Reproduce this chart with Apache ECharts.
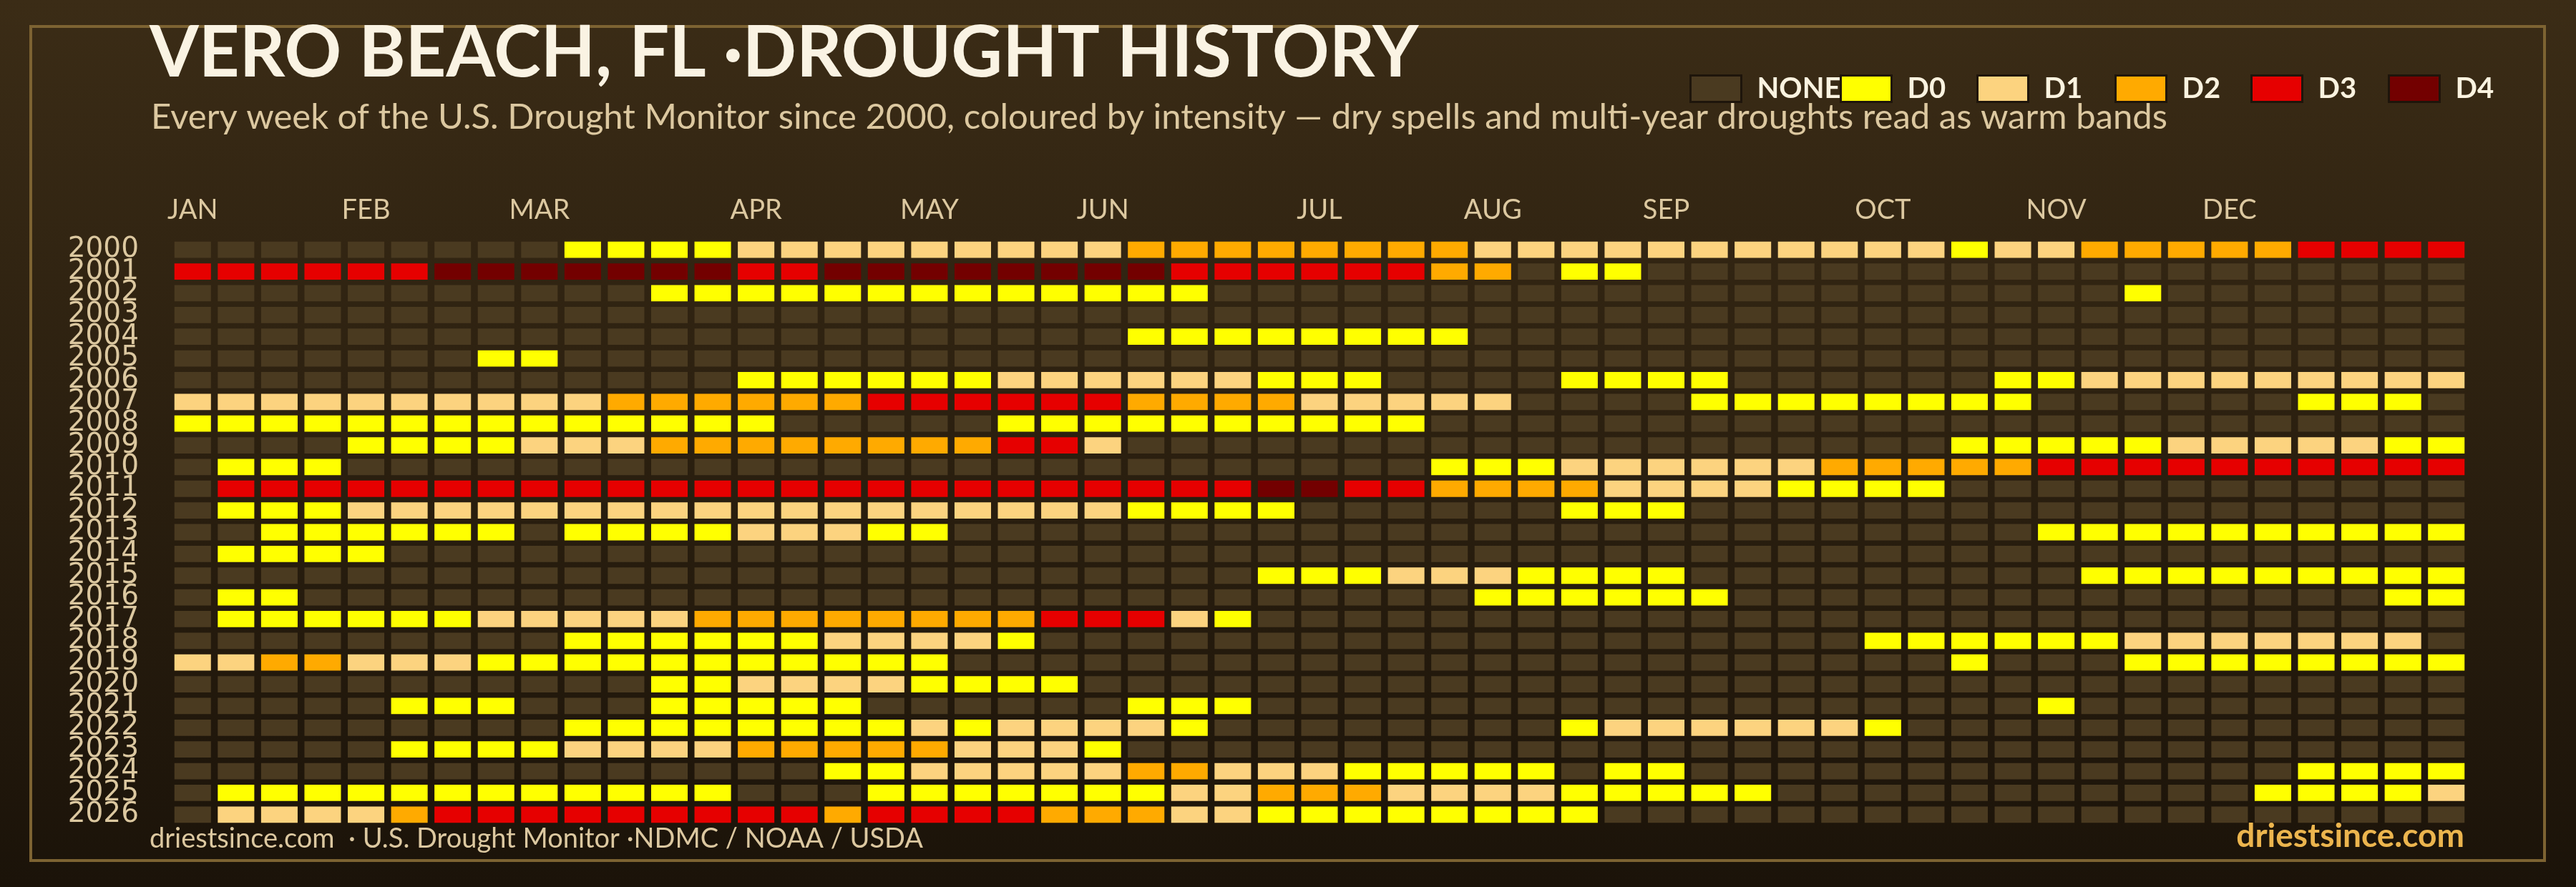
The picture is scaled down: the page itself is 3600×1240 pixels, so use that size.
<!DOCTYPE html>
<html>
<head>
<meta charset="utf-8">
<script src="https://cdn.jsdelivr.net/npm/echarts@6/dist/echarts.min.js"></script>
<style>
  html, body { margin: 0; padding: 0; background: #2b1f0f; }
  #chart { width: 3600px; height: 1240px; }
</style>
</head>
<body>
<div id="chart"></div>
<script>
// ---- categories ----
const levelNames = ['NONE', 'D0', 'D1', 'D2', 'D3', 'D4'];
const levelColors = ['#4a3a20', '#ffff00', '#fcd37f', '#ffaa00', '#e60000', '#730000'];
const yearLabels = ['2000','2001','2002','2003','2004','2005','2006','2007','2008','2009','2010','2011','2012','2013',
  '2014','2015','2016','2017','2018','2019','2020','2021','2022','2023','2024','2025','2026'];
const monthNames = ['JAN','FEB','MAR','APR','MAY','JUN','JUL','AUG','SEP','OCT','NOV','DEC'];
const monthStartWeek = [0, 4, 8, 13, 17, 21, 26, 30, 34, 39, 43, 47];

// ---- weekly intensity per year (0 = none, 1 = D0 ... 5 = D4), 53 weeks ----
const w2000 = [0,0,0,0,0,0,0,0,0,1,1,1,1,2,2,2,2,2,2,2,2,2,3,3,3,3,3,3,3,3,2,2,2,2,2,2,2,2,2,2,2,1,2,2,3,3,3,3,3,4,4,4,4];
const w2001 = [4,4,4,4,4,4,5,5,5,5,5,5,5,4,4,5,5,5,5,5,5,5,5,4,4,4,4,4,4,3,3,0,1,1,0,0,0,0,0,0,0,0,0,0,0,0,0,0,0,0,0,0,0];
const w2002 = [0,0,0,0,0,0,0,0,0,0,0,1,1,1,1,1,1,1,1,1,1,1,1,1,0,0,0,0,0,0,0,0,0,0,0,0,0,0,0,0,0,0,0,0,0,1,0,0,0,0,0,0,0];
const w2003 = [0,0,0,0,0,0,0,0,0,0,0,0,0,0,0,0,0,0,0,0,0,0,0,0,0,0,0,0,0,0,0,0,0,0,0,0,0,0,0,0,0,0,0,0,0,0,0,0,0,0,0,0,0];
const w2004 = [0,0,0,0,0,0,0,0,0,0,0,0,0,0,0,0,0,0,0,0,0,0,1,1,1,1,1,1,1,1,0,0,0,0,0,0,0,0,0,0,0,0,0,0,0,0,0,0,0,0,0,0,0];
const w2005 = [0,0,0,0,0,0,0,1,1,0,0,0,0,0,0,0,0,0,0,0,0,0,0,0,0,0,0,0,0,0,0,0,0,0,0,0,0,0,0,0,0,0,0,0,0,0,0,0,0,0,0,0,0];
const w2006 = [0,0,0,0,0,0,0,0,0,0,0,0,0,1,1,1,1,1,1,2,2,2,2,2,2,1,1,1,0,0,0,0,1,1,1,1,0,0,0,0,0,0,1,1,2,2,2,2,2,2,2,2,2];
const w2007 = [2,2,2,2,2,2,2,2,2,2,3,3,3,3,3,3,4,4,4,4,4,4,3,3,3,3,2,2,2,2,2,0,0,0,0,1,1,1,1,1,1,1,1,0,0,0,0,0,0,1,1,1,0];
const w2008 = [1,1,1,1,1,1,1,1,1,1,1,1,1,1,0,0,0,0,0,1,1,1,1,1,1,1,1,1,1,0,0,0,0,0,0,0,0,0,0,0,0,0,0,0,0,0,0,0,0,0,0,0,0];
const w2009 = [0,0,0,0,1,1,1,1,2,2,2,3,3,3,3,3,3,3,3,4,4,2,0,0,0,0,0,0,0,0,0,0,0,0,0,0,0,0,0,0,0,1,1,1,1,1,2,2,2,2,2,1,1];
const w2010 = [0,1,1,1,0,0,0,0,0,0,0,0,0,0,0,0,0,0,0,0,0,0,0,0,0,0,0,0,0,1,1,1,2,2,2,2,2,2,3,3,3,3,3,4,4,4,4,4,4,4,4,4,4];
const w2011 = [0,4,4,4,4,4,4,4,4,4,4,4,4,4,4,4,4,4,4,4,4,4,4,4,4,5,5,4,4,3,3,3,3,2,2,2,2,1,1,1,1,0,0,0,0,0,0,0,0,0,0,0,0];
const w2012 = [0,1,1,1,2,2,2,2,2,2,2,2,2,2,2,2,2,2,2,2,2,2,1,1,1,1,0,0,0,0,0,0,1,1,1,0,0,0,0,0,0,0,0,0,0,0,0,0,0,0,0,0,0];
const w2013 = [0,0,1,1,1,1,1,1,0,1,1,1,1,2,2,2,1,1,0,0,0,0,0,0,0,0,0,0,0,0,0,0,0,0,0,0,0,0,0,0,0,0,0,1,1,1,1,1,1,1,1,1,1];
const w2014 = [0,1,1,1,1,0,0,0,0,0,0,0,0,0,0,0,0,0,0,0,0,0,0,0,0,0,0,0,0,0,0,0,0,0,0,0,0,0,0,0,0,0,0,0,0,0,0,0,0,0,0,0,0];
const w2015 = [0,0,0,0,0,0,0,0,0,0,0,0,0,0,0,0,0,0,0,0,0,0,0,0,0,1,1,1,2,2,2,1,1,1,1,0,0,0,0,0,0,0,0,0,1,1,1,1,1,1,1,1,1];
const w2016 = [0,1,1,0,0,0,0,0,0,0,0,0,0,0,0,0,0,0,0,0,0,0,0,0,0,0,0,0,0,0,1,1,1,1,1,1,0,0,0,0,0,0,0,0,0,0,0,0,0,0,0,1,1];
const w2017 = [0,1,1,1,1,1,1,2,2,2,2,2,3,3,3,3,3,3,3,3,4,4,4,2,1,0,0,0,0,0,0,0,0,0,0,0,0,0,0,0,0,0,0,0,0,0,0,0,0,0,0,0,0];
const w2018 = [0,0,0,0,0,0,0,0,0,1,1,1,1,1,1,2,2,2,2,1,0,0,0,0,0,0,0,0,0,0,0,0,0,0,0,0,0,0,0,1,1,1,1,1,1,2,2,2,2,2,2,2,0];
const w2019 = [2,2,3,3,2,2,2,1,1,1,1,1,1,1,1,1,1,1,0,0,0,0,0,0,0,0,0,0,0,0,0,0,0,0,0,0,0,0,0,0,0,1,0,0,0,1,1,1,1,1,1,1,1];
const w2020 = [0,0,0,0,0,0,0,0,0,0,0,1,1,2,2,2,2,1,1,1,1,0,0,0,0,0,0,0,0,0,0,0,0,0,0,0,0,0,0,0,0,0,0,0,0,0,0,0,0,0,0,0,0];
const w2021 = [0,0,0,0,0,1,1,1,0,0,0,1,1,1,1,1,0,0,0,0,0,0,1,1,1,0,0,0,0,0,0,0,0,0,0,0,0,0,0,0,0,0,0,1,0,0,0,0,0,0,0,0,0];
const w2022 = [0,0,0,0,0,0,0,0,0,1,1,1,1,1,1,1,1,2,1,2,2,2,2,1,0,0,0,0,0,0,0,0,1,2,2,2,2,2,2,1,0,0,0,0,0,0,0,0,0,0,0,0,0];
const w2023 = [0,0,0,0,0,1,1,1,1,2,2,2,2,3,3,3,3,3,2,2,2,1,0,0,0,0,0,0,0,0,0,0,0,0,0,0,0,0,0,0,0,0,0,0,0,0,0,0,0,0,0,0,0];
const w2024 = [0,0,0,0,0,0,0,0,0,0,0,0,0,0,0,1,1,2,2,2,2,2,3,3,2,2,2,1,1,1,1,1,0,1,1,0,0,0,0,0,0,0,0,0,0,0,0,0,0,1,1,1,1];
const w2025 = [0,1,1,1,1,1,1,1,1,1,1,1,1,0,0,0,1,1,1,1,1,1,1,2,2,3,3,3,2,2,2,2,1,1,1,1,1,0,0,0,0,0,0,0,0,0,0,0,1,1,1,1,2];
const w2026 = [0,2,2,2,2,3,4,4,4,4,4,4,4,4,4,3,4,4,4,4,3,3,3,2,2,1,1,1,1,1,1,1,1,0,0,0,0,0,0,0,0,0,0,0,0,0,0,0,0,0,0,0,0];

const weeklyByYear = [w2000,w2001,w2002,w2003,w2004,w2005,w2006,w2007,w2008,w2009,w2010,w2011,w2012,w2013,
  w2014,w2015,w2016,w2017,w2018,w2019,w2020,w2021,w2022,w2023,w2024,w2025,w2026];

// ---- build options ----
const weekLabels = [];
for (let i = 0; i < 53; i++) weekLabels.push('');
monthStartWeek.forEach((w, i) => { weekLabels[w] = monthNames[i]; });

const GAP_X = 9.5, GAP_Y = 7.6;
function renderCell(params, api) {
  const p = api.coord([api.value(0), api.value(1)]);
  const s = api.size([1, 1]);
  return {
    type: 'rect',
    shape: { x: p[0] - s[0] / 2 + GAP_X / 2, y: p[1] - s[1] / 2 + GAP_Y / 2, width: s[0] - GAP_X, height: s[1] - GAP_Y },
    style: { fill: api.visual('color') }
  };
}

const series = levelNames.map((name, k) => {
  const data = [];
  weeklyByYear.forEach((row, yi) => row.forEach((v, wi) => { if (v === k) data.push([wi, yi]); }));
  return {
    name: name, type: 'custom', renderItem: renderCell, data: data,
    encode: { x: 0, y: 1 }, itemStyle: { color: levelColors[k] }, animation: false, silent: true
  };
});

const legendLefts = [2361, 2571, 2762, 2955, 3145, 3337];
const legends = levelNames.map((name, k) => ({
  data: [name], left: legendLefts[k], top: 104, padding: 0, orient: 'horizontal',
  icon: 'rect', itemWidth: 71, itemHeight: 37, itemGap: 0, selectedMode: false,
  itemStyle: { borderColor: '#1e150b', borderWidth: 3 },
  textStyle: { color: '#fbf3e0', fontFamily: 'Lato', fontWeight: 'bold', fontSize: 40, padding: [0, 0, 0, 17] }
}));

const chart = echarts.init(document.getElementById('chart'), null, { renderer: 'canvas', width: 3600, height: 1240 });
chart.setOption({
  animation: false,
  backgroundColor: 'transparent',
  graphic: [
    { type: 'rect', z: -10, silent: true, shape: { x: 0, y: 0, width: 3600, height: 1240 },
      style: { fill: { type: 'linear', x: 0, y: 0, x2: 0, y2: 1,
        colorStops: [{ offset: 0, color: '#3b2c16' }, { offset: 1, color: '#1b1309' }] } } },
    { type: 'rect', z: -5, silent: true, shape: { x: 43, y: 37, width: 3513, height: 1166 },
      style: { fill: 'none', stroke: '#7d6332', lineWidth: 4 } }
  ],
  title: [
    { text: 'VERO BEACH, FL ·DROUGHT HISTORY', left: 209, top: 26, padding: 0,
      textStyle: { color: '#faf3e3', fontFamily: 'Lato', fontWeight: 'bold', fontSize: 99 } },
    { text: 'Every week of the U.S. Drought Monitor since 2000, coloured by intensity \u2014 dry spells and multi-year droughts read as warm bands',
      left: 211, top: 140, padding: 0,
      textStyle: { color: '#dcc8a0', fontFamily: 'Lato', fontWeight: 'normal', fontSize: 49 } },
    { text: 'driestsince.com  \u00b7 U.S. Drought Monitor \u00b7NDMC / NOAA / USDA', left: 209, top: 1154, padding: 0,
      textStyle: { color: '#dcc8a0', fontFamily: 'Lato', fontWeight: 'normal', fontSize: 38 } },
    { text: 'driestsince.com', right: 156, top: 1146, padding: 0,
      textStyle: { color: '#ecb54e', fontFamily: 'Lato', fontWeight: 'bold', fontSize: 46 } }
  ],
  legend: legends,
  grid: { left: 239, top: 334, width: 3210, height: 820, containLabel: false },
  xAxis: {
    type: 'category', position: 'top', data: weekLabels,
    axisLine: { show: false }, axisTick: { show: false }, splitLine: { show: false },
    axisLabel: { interval: 0, margin: 21, color: '#dcc8a0', fontFamily: 'Lato', fontSize: 38 }
  },
  yAxis: {
    type: 'category', inverse: true, data: yearLabels,
    axisLine: { show: false }, axisTick: { show: false }, splitLine: { show: false },
    axisLabel: { interval: 0, margin: 45, color: '#dcc8a0', fontFamily: 'DejaVu Sans', fontSize: 39 }
  },
  series: series
});
</script>
</body>
</html>
